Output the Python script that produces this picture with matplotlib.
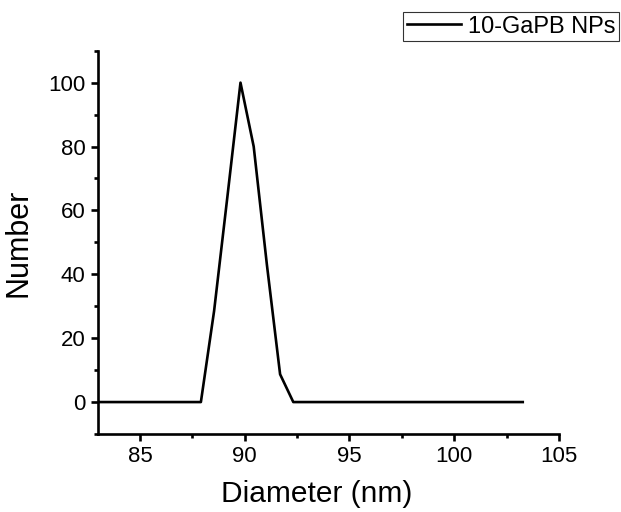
import matplotlib
matplotlib.use("Agg")
import matplotlib.pyplot as plt
from matplotlib.ticker import MultipleLocator

plt.rcParams['font.family'] = ['Liberation Sans', 'DejaVu Sans']

# Data
diameter = [83.0, 87.91, 88.54, 89.17, 89.80, 90.43, 91.06, 91.69, 92.32, 103.27]
number = [0, 0, 28.5, 64, 100, 80, 43, 8.7, 0, 0]
series_label = "10-GaPB NPs"
x_label = "Diameter (nm)"
y_label = "Number"

fig = plt.figure(figsize=(6.21, 5.12), dpi=100)
ax = fig.add_axes([98/621, 1-434/512, (559-98)/621, (434-50.7)/512])

line, = ax.plot(diameter, number, color='black', lw=1.9, label=series_label)

ax.set_xlim(83, 105)
ax.set_ylim(-10, 110)
ax.xaxis.set_major_locator(MultipleLocator(5))
ax.xaxis.set_minor_locator(MultipleLocator(2.5))
ax.yaxis.set_major_locator(MultipleLocator(20))
ax.yaxis.set_minor_locator(MultipleLocator(10))

for s in ['top', 'right']:
    ax.spines[s].set_visible(False)
for s in ['left', 'bottom']:
    ax.spines[s].set_linewidth(1.9)

ax.tick_params(which='major', direction='out', length=5, width=1.9, labelsize=16, pad=4)
ax.tick_params(which='minor', direction='out', length=3, width=1.9)

ax.set_xlabel(x_label, fontsize=21.5)
ax.xaxis.set_label_coords((317-98)/461, -(480-434)/383.3)
ax.set_ylabel(y_label, fontsize=22)
ax.yaxis.set_label_coords(-(98-34)/461, 0.5)

leg = fig.legend(handles=[line], loc='upper left',
                 bbox_to_anchor=(403/621, 1-12/512), fontsize=17,
                 frameon=True, fancybox=False, shadow=False,
                 borderpad=0.15, handlelength=2.3, handletextpad=0.3,
                 borderaxespad=0)
leg.get_frame().set_edgecolor('black')
leg.get_frame().set_linewidth(0.8)

fig.savefig('out.png', dpi=100)
